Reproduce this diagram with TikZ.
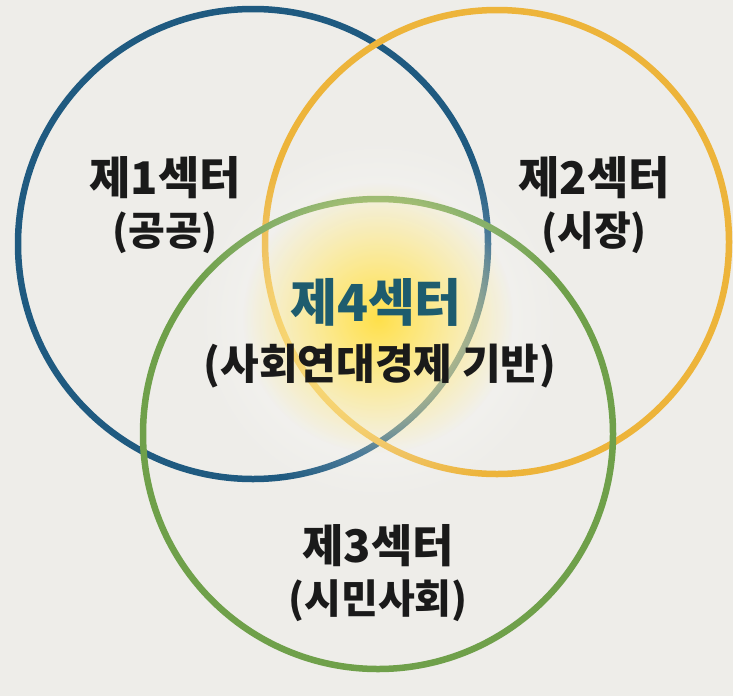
\documentclass[tikz,border=0pt]{standalone}
\usepackage{fontspec}
\newfontfamily\kr{Noto Sans CJK KR}
\usetikzlibrary{fadings}
\definecolor{bgc}{HTML}{EEEDE9}
\definecolor{bluec}{HTML}{1F5A80}
\definecolor{yelc}{HTML}{EDB43A}
\definecolor{grnc}{HTML}{6FA04A}
\definecolor{tealc}{HTML}{1E5C6E}
\definecolor{glowc}{HTML}{FFE04A}
\definecolor{txtc}{HTML}{1A1A1A}
\tikzfading[name=glowfade, inner color=transparent!0, outer color=transparent!100]
\tikzfading[name=whitefade, inner color=transparent!25, outer color=transparent!100]
\tikzset{
  ring/.style={line width=6.5pt},
  head/.style={font=\kr\bfseries\fontsize{45}{50}\selectfont, text=txtc, inner sep=0pt},
  sub/.style={font=\kr\bfseries\fontsize{40}{44}\selectfont, text=txtc, inner sep=0pt},
  mainlbl/.style={font=\kr\bfseries\fontsize{51}{56}\selectfont, text=tealc, inner sep=0pt},
}
\begin{document}
\begin{tikzpicture}[x=1pt,y=-1pt]
\fill[bgc] (0,0) rectangle (733,696);
\useasboundingbox (0,0) rectangle (733,696);
\draw[ring, bluec] (253,244) circle (235);
\draw[ring, yelc] (497,242) circle (232);
\draw[ring, grnc] (378,434) circle (235);
\fill[white, path fading=whitefade] (378,320) circle (185);
\fill[glowc, path fading=glowfade] (378,318) circle (135);
\node[head] (s1) at (165,178) {제1섹터};
\node[sub] (s1b) at (165,233) {(공공)};
\node[head] (s2) at (594,178) {제2섹터};
\node[sub] (s2b) at (594,233) {(시장)};
\node[mainlbl] (s4) at (376,302) {제4섹터};
\node[sub, font=\kr\bfseries\fontsize{42}{46}\selectfont] (s4b) at (380,366) {(사회연대경제 기반)};
\node[head] (s3) at (378,546) {제3섹터};
\node[sub] (s3b) at (378,601) {(시민사회)};
\end{tikzpicture}
\end{document}
